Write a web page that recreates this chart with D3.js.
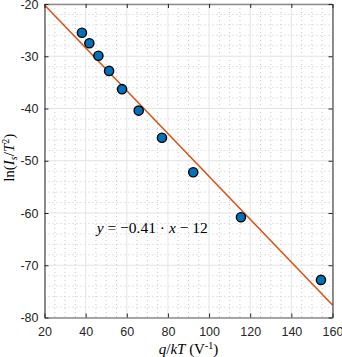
<!DOCTYPE html>
<html>
<head>
<meta charset="utf-8">
<script src="https://cdn.jsdelivr.net/npm/d3@7"></script>
<style>
  body { margin: 0; background: #fff; }
  svg { display: block; }
  .tick text { font-family: "Liberation Sans", Arial, sans-serif; font-size: 12.5px; fill: #262626; }
  .math { font-family: "Liberation Serif", "DejaVu Serif", serif; fill: #000; }
</style>
</head>
<body>
<svg id="chart"></svg>
<script>
// measured points
var qkT = [38.2, 41.8, 46.2, 51.4, 57.7, 65.8, 77.1, 92.3, 115.5, 154.4];
var lnIsT2 = [-25.5, -27.5, -29.9, -32.8, -36.3, -40.4, -45.6, -52.2, -60.8, -72.8];

// linear fit y = slope*x + intercept
var fitSlope = -0.41;
var fitIntercept = -12;
var fitRange = [20, 160];

var xTicks = [20, 40, 60, 80, 100, 120, 140, 160];
var yTicks = [-20, -30, -40, -50, -60, -70, -80];

var margin = {top: 4, right: 9.5, bottom: 39.5, left: 44.5},
    width = 342 - margin.left - margin.right,
    height = 357 - margin.top - margin.bottom;

var svg = d3.select("#chart")
    .attr("width", 342)
    .attr("height", 357)
    .append("g")
    .attr("transform", "translate(" + margin.left + "," + margin.top + ")");

var x = d3.scaleLinear().domain([20, 160]).range([0, width]);
var y = d3.scaleLinear().domain([-80, -20]).range([height, 0]);

// plain hyphen labels like the original
var fmt = function(d) { return String(d); };

// minor grid (dotted)
svg.append("g")
    .selectAll("line")
    .data(d3.range(20, 160.1, 5).filter(function(d) { return d % 20 != 0; }))
    .enter().append("line")
    .attr("x1", function(d) { return x(d); })
    .attr("x2", function(d) { return x(d); })
    .attr("y1", 0).attr("y2", height)
    .attr("stroke", "#c8c8c8")
    .attr("stroke-width", 1)
    .attr("stroke-dasharray", "1,3");

svg.append("g")
    .selectAll("line")
    .data(d3.range(-80, -19.9, 2).filter(function(d) { return d % 10 != 0; }))
    .enter().append("line")
    .attr("y1", function(d) { return y(d); })
    .attr("y2", function(d) { return y(d); })
    .attr("x1", 0).attr("x2", width)
    .attr("stroke", "#c8c8c8")
    .attr("stroke-width", 1)
    .attr("stroke-dasharray", "1,3");

// major grid
svg.append("g")
    .selectAll("line")
    .data(xTicks)
    .enter().append("line")
    .attr("x1", function(d) { return x(d); })
    .attr("x2", function(d) { return x(d); })
    .attr("y1", 0).attr("y2", height)
    .attr("stroke", "#e3e3e3")
    .attr("stroke-width", 1);

svg.append("g")
    .selectAll("line")
    .data(yTicks)
    .enter().append("line")
    .attr("y1", function(d) { return y(d); })
    .attr("y2", function(d) { return y(d); })
    .attr("x1", 0).attr("x2", width)
    .attr("stroke", "#e3e3e3")
    .attr("stroke-width", 1);

// fit line
var line = d3.line()
    .x(function(d) { return x(d); })
    .y(function(d) { return y(fitSlope * d + fitIntercept); });

svg.append("path")
    .datum(fitRange)
    .attr("fill", "none")
    .attr("stroke", "#D95319")
    .attr("stroke-width", 1.6)
    .attr("d", line);

// data points
svg.append("g")
    .selectAll("circle")
    .data(qkT)
    .enter().append("circle")
    .attr("cx", function(d) { return x(d); })
    .attr("cy", function(d, i) { return y(lnIsT2[i]); })
    .attr("r", 4.6)
    .attr("fill", "#0072BD")
    .attr("stroke", "#000")
    .attr("stroke-width", 1.4);

// axes, ticks inside
var xAxis = svg.append("g")
    .attr("transform", "translate(0," + height + ")")
    .call(d3.axisBottom(x).tickValues(xTicks).tickFormat(fmt).tickSizeInner(-4).tickSizeOuter(0).tickPadding(10));
xAxis.select(".domain").attr("stroke", "#8c8c8c").attr("stroke-width", 1.5);
xAxis.selectAll(".tick line").attr("stroke", "#262626");

var xTop = svg.append("g")
    .call(d3.axisTop(x).tickValues(xTicks).tickSizeInner(-4).tickSizeOuter(0).tickFormat(""));
xTop.select(".domain").attr("stroke", "#8c8c8c").attr("stroke-width", 1.5);
xTop.selectAll(".tick line").attr("stroke", "#262626");

var yAxis = svg.append("g")
    .call(d3.axisLeft(y).tickValues(yTicks).tickFormat(fmt).tickSizeInner(-4).tickSizeOuter(0).tickPadding(6));
yAxis.select(".domain").attr("stroke", "#262626");
yAxis.selectAll(".tick line").attr("stroke", "#262626");

var yRight = svg.append("g")
    .attr("transform", "translate(" + width + ",0)")
    .call(d3.axisRight(y).tickValues(yTicks).tickSizeInner(-4).tickSizeOuter(0).tickFormat(""));
yRight.select(".domain").attr("stroke", "#262626");
yRight.selectAll(".tick line").attr("stroke", "#262626");

// axis labels
var xl = svg.append("text")
    .attr("class", "math")
    .attr("x", width / 2)
    .attr("y", height + 36)
    .attr("text-anchor", "middle")
    .attr("font-size", "15px");
xl.append("tspan").attr("font-style", "italic").text("q");
xl.append("tspan").text("/");
xl.append("tspan").attr("font-style", "italic").text("kT");
xl.append("tspan").text(" (V");
xl.append("tspan").attr("font-size", "10px").attr("dy", "-5").text("-1");
xl.append("tspan").attr("dy", "5").text(")");

var yl = svg.append("text")
    .attr("class", "math")
    .attr("transform", "translate(-31," + (height / 2 - 3) + ") rotate(-90)")
    .attr("text-anchor", "middle")
    .attr("font-size", "15px");
yl.append("tspan").text("ln(");
yl.append("tspan").attr("font-style", "italic").text("I");
yl.append("tspan").attr("font-style", "italic").attr("font-size", "10px").attr("dy", "3").text("s");
yl.append("tspan").attr("dy", "-3").text("/");
yl.append("tspan").attr("font-style", "italic").text("T");
yl.append("tspan").attr("font-size", "10px").attr("dy", "-5").text("2");
yl.append("tspan").attr("dy", "5").text(")");

// equation annotation
var eq = svg.append("text")
    .attr("class", "math")
    .attr("x", x(45.4))
    .attr("y", y(-63.8))
    .attr("font-size", "15.5px");
eq.append("tspan").attr("font-style", "italic").text("y");
eq.append("tspan").text(" = \u22120.41 \u00b7 ");
eq.append("tspan").attr("font-style", "italic").text("x");
eq.append("tspan").text(" \u2212 12");
</script>
</body>
</html>
